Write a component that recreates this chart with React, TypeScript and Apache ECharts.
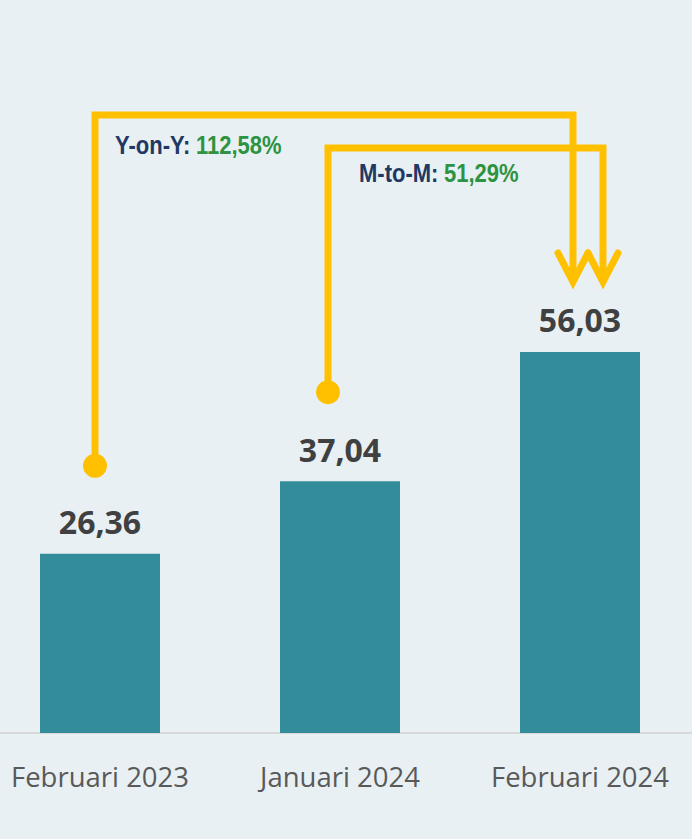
import React, { useEffect, useRef } from "react";
import * as echarts from "echarts";

const categories = ["Februari 2023", "Januari 2024", "Februari 2024"];
const values = [26.36, 37.04, 56.03];
const yoyLabel = "Y-on-Y:";
const yoyValue = "112,58%";
const mtmLabel = "M-to-M:";
const mtmValue = "51,29%";

const YELLOW = "#FFC000";
const NARROW = "'Liberation Sans', Arial, sans-serif";
const OX = 20; // chart div is shifted 20px left of the page

export default function App() {
  const ref = useRef<HTMLDivElement>(null);
  useEffect(() => {
    if (!ref.current) return;
    const chart = echarts.init(ref.current, null, { renderer: "svg" });
    chart.setOption({
      animation: false,
      backgroundColor: "#E8F0F4",
      grid: { left: 0, right: 0, top: 53, bottom: 106, containLabel: false },
      xAxis: {
        type: "category",
        data: categories,
        axisLine: { show: true, lineStyle: { color: "#D9D9D9", width: 2 } },
        axisTick: { show: false },
        axisLabel: { color: "#595959", fontSize: 27.5, fontFamily: "'Open Sans', sans-serif", margin: 29 },
      },
      yAxis: { type: "value", min: 0, max: 100, show: false, splitLine: { show: false } },
      series: [
        {
          type: "bar",
          data: values,
          barWidth: "50%",
          itemStyle: { color: "#338C9A" },
          label: {
            show: true,
            position: "top",
            distance: 16,
            color: "#404040",
            fontSize: 32,
            fontWeight: "bold",
            fontFamily: "'Open Sans', sans-serif",
            formatter: (p: any) => p.value.toFixed(2).replace(".", ","),
          },
        },
      ],
    });

    const px = (i: number) => chart.convertToPixel({ seriesIndex: 0 }, [i, values[i]]) as number[];
    const p0 = px(0), p1 = px(1), p2 = px(2);
    const lw = 7;
    const topY1 = 115, topY2 = 148;
    const c1 = [p0[0] - 5, p0[1] - 88];
    const c2 = [p1[0] - 12, p1[1] - 89];
    const tipY = p2[1] - 70;
    const ax1 = p2[0] - 7, ax2 = p2[0] + 23;
    const wing = 15, wingH = 29;
    const ls = { stroke: YELLOW, lineWidth: lw, fill: null, lineJoin: "miter", lineCap: "butt" };
    const wingStyle = { stroke: YELLOW, lineWidth: lw, fill: null, lineJoin: "miter", lineCap: "round" };
    const txt = (x: number, yBase: number, text: string, fill: string, weight: string) => ({
      type: "text",
      x: x + OX,
      y: yBase - 9,
      scaleX: 0.88,
      style: { text, fill, font: `${weight} 25px ${NARROW}`, align: "left", verticalAlign: "middle" },
      z: 10,
    });

    chart.setOption({
      graphic: [
        { type: "polyline", shape: { points: [[c1[0], c1[1]], [c1[0], topY1], [ax1, topY1], [ax1, tipY - 4]] }, style: ls, z: 10 },
        { type: "polyline", shape: { points: [[ax1 - wing, tipY - wingH], [ax1, tipY], [ax1 + wing, tipY - wingH]] }, style: wingStyle, z: 10 },
        { type: "circle", shape: { cx: c1[0], cy: c1[1], r: 12 }, style: { fill: YELLOW }, z: 10 },
        { type: "polyline", shape: { points: [[c2[0], c2[1]], [c2[0], topY2], [ax2, topY2], [ax2, tipY - 4]] }, style: ls, z: 10 },
        { type: "polyline", shape: { points: [[ax2 - wing, tipY - wingH], [ax2, tipY], [ax2 + wing, tipY - wingH]] }, style: wingStyle, z: 10 },
        { type: "circle", shape: { cx: c2[0], cy: c2[1], r: 12 }, style: { fill: YELLOW }, z: 10 },
        txt(115, 155, yoyLabel, "#1F3864", "bold"),
        txt(196, 155, yoyValue, "#2E9340", "bold"),
        txt(359, 183, mtmLabel, "#1F3864", "bold"),
        txt(444, 183, mtmValue, "#2E9340", "bold"),
      ],
    });
    return () => chart.dispose();
  }, []);
  return <div ref={ref} style={{ position: "fixed", left: -OX, top: 0, width: 692 + 2 * OX - 12, height: 839 }} />;
}
